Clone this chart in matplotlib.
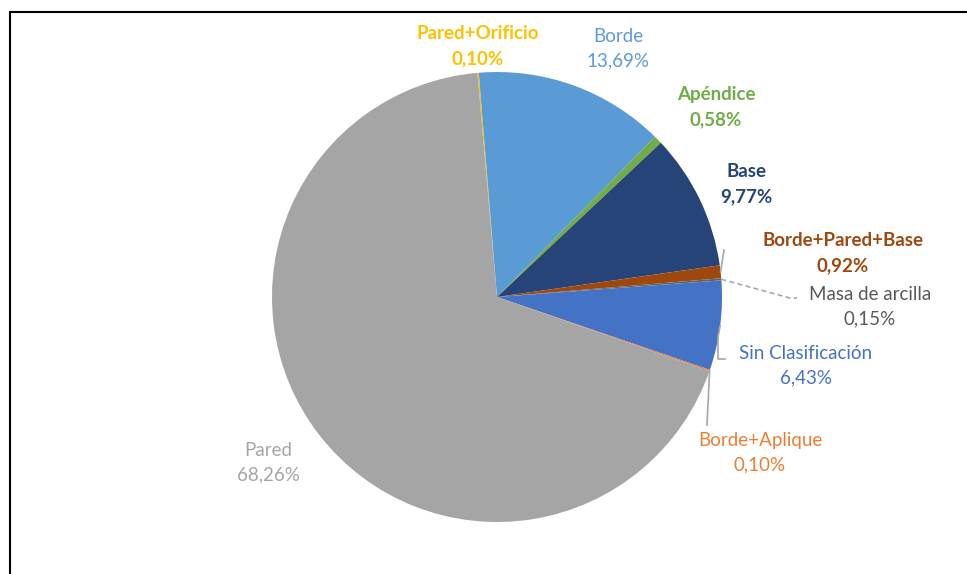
import numpy as np
import matplotlib.pyplot as plt
from matplotlib.patches import Rectangle

# data, clockwise from the top
categorias = ["Pared+Orificio", "Borde", "Apéndice", "Base", "Borde+Pared+Base",
              "Masa de arcilla", "Sin Clasificación", "Borde+Aplique", "Pared"]
porcentajes = [0.10, 13.69, 0.58, 9.77, 0.92, 0.15, 6.43, 0.10, 68.26]
colores = ["#FFC000", "#5B9BD5", "#70AD47", "#264478", "#9E480E",
           "#636363", "#4472C4", "#ED7D31", "#A5A5A5"]
colores_texto = ["#FFC000", "#5B9BD5", "#70AD47", "#264478", "#9E480E",
                 "#595959", "#4472C4", "#ED7D31", "#A5A5A5"]
negrita = [True, False, True, True, True, False, False, False, False]

# layout (pixel coords, y down)
W, H = 967, 574
centro = (497, 297)
radio = 225
pos_etiquetas = [(478, 46), (618, 49), (716, 107), (746, 184), (843, 253),
                 (870, 307), (806, 366), (760, 453), (268, 463)]
# leader lines: index -> list of pixel points after the wedge edge point
guias = {4: [(724, 250)], 5: [(790, 298), (797, 298)],
         6: [(718, 337), (718, 359), (725, 359)], 7: [(707, 425)]}

plt.rcParams['font.family'] = ['Lato', 'DejaVu Sans']

fig = plt.figure(figsize=(W / 100, H / 100), dpi=100)
ax = fig.add_axes([0, 0, 1, 1])

wedges, _ = ax.pie(porcentajes, colors=colores, startangle=95, counterclock=False,
                   center=(centro[0], H - centro[1]), radius=radio,
                   wedgeprops=dict(linewidth=0), frame=True)
ax.set_xlim(0, W); ax.set_ylim(0, H)
ax.set_aspect('equal'); ax.axis('off')

for i, (cat, p) in enumerate(zip(categorias, porcentajes)):
    x, y = pos_etiquetas[i]
    txt = f"{cat}\n{p:.2f}%".replace(".", ",")
    ax.text(x, H - y, txt, ha='center', va='center', fontsize=13.5,
            color=colores_texto[i], fontweight='bold' if negrita[i] else 'normal',
            linespacing=1.55)
    if i in guias:
        w = wedges[i]
        ang = np.deg2rad((w.theta1 + w.theta2) / 2)
        x0 = centro[0] + radio * np.cos(ang)
        y0 = H - centro[1] + radio * np.sin(ang)
        xs = [x0] + [q[0] for q in guias[i]]
        ys = [y0] + [H - q[1] for q in guias[i]]
        if i == 5:
            ax.plot(xs, ys, color='#A6A6A6', lw=1.2, ls=(0, (3, 2)))
        else:
            ax.plot(xs, ys, color='#A6A6A6', lw=1.2)

fig.patches.append(Rectangle((10 / W, -0.1), 1.2, (H - 12) / H + 0.1, transform=fig.transFigure,
                             fill=False, edgecolor='black', lw=1.5))

fig.savefig("out.png", dpi=100)
